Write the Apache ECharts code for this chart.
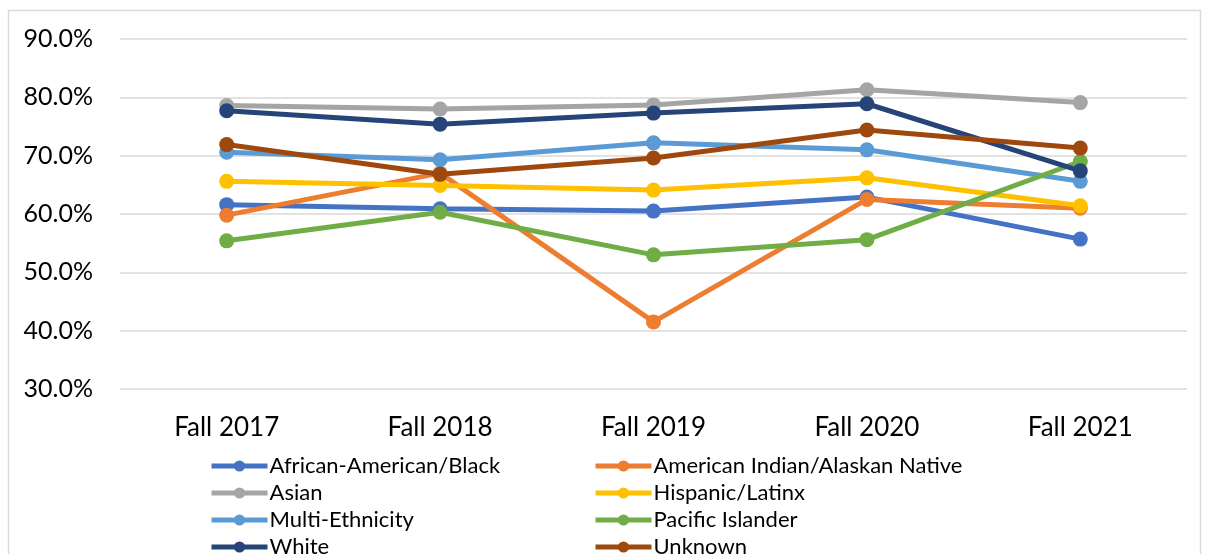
<!DOCTYPE html>
<html>
<head>
<meta charset="utf-8">
<script src="https://cdn.jsdelivr.net/npm/echarts@6/dist/echarts.min.js"></script>
<style>
  html, body { margin: 0; padding: 0; background: #fff; }
  #chart { width: 1209px; height: 554px; }
</style>
</head>
<body>
<div id="chart"></div>
<script>
// categories (terms)
var terms = ['Fall 2017', 'Fall 2018', 'Fall 2019', 'Fall 2020', 'Fall 2021'];

// retention rate (%) by group
var africanAmerican = [61.6, 60.9, 60.5, 62.9, 55.7];
var americanIndian = [59.8, 67.0, 41.5, 62.5, 61.0];
var asian = [78.6, 78.0, 78.7, 81.3, 79.1];
var hispanic = [65.6, 64.9, 64.1, 66.2, 61.4];
var multiEthnicity = [70.6, 69.3, 72.2, 71.0, 65.6];
var pacificIslander = [55.4, 60.3, 53.0, 55.6, 69.0];
var white = [77.7, 75.4, 77.3, 78.9, 67.4];
var unknown = [71.9, 66.8, 69.6, 74.4, 71.3];

var groupNames = [
  'African-American/Black', 'American Indian/Alaskan Native',
  'Asian', 'Hispanic/Latinx',
  'Multi-Ethnicity', 'Pacific Islander',
  'White', 'Unknown'
];
var groupData = [africanAmerican, americanIndian, asian, hispanic, multiEthnicity, pacificIslander, white, unknown];
var colors = ['#4472C4', '#ED7D31', '#A5A5A5', '#FFC000', '#5B9BD5', '#70AD47', '#264478', '#9E480E'];

var FONT = 'Lato, sans-serif';

var chart = echarts.init(document.getElementById('chart'));

var series = groupNames.map(function (name, i) {
  return {
    name: name,
    type: 'line',
    data: groupData[i],
    symbol: 'circle',
    symbolSize: 15,
    lineStyle: { width: 5, color: colors[i] },
    itemStyle: { color: colors[i] },
    z: 2 + i
  };
});

// one legend per item: two columns, four rows
var legends = groupNames.map(function (name, i) {
  return {
    data: [name],
    left: i % 2 === 0 ? 209 : 593,
    top: 455 + Math.floor(i / 2) * 27,
    itemWidth: 56,
    itemHeight: 14,
    padding: 0,
    lineStyle: { width: 5 },
    textStyle: { fontFamily: FONT, fontSize: 22, color: '#000', padding: [0, 0, 0, -3] }
  };
});

var option = {
  animation: false,
  color: colors,
  grid: { left: 120, right: 22, top: 39, height: 350 },
  graphic: [{
    type: 'rect',
    shape: { x: 8.5, y: 10.5, width: 1192, height: 560 },
    style: { fill: 'none', stroke: '#d9d9d9', lineWidth: 1.5 },
    silent: true
  }],
  legend: legends,
  xAxis: {
    type: 'category',
    data: terms,
    axisLine: { show: false },
    axisTick: { show: false },
    axisLabel: { fontFamily: FONT, fontSize: 26, color: '#000', margin: 26 }
  },
  yAxis: {
    type: 'value',
    min: 30,
    max: 90,
    interval: 10,
    axisLine: { show: false },
    axisTick: { show: false },
    splitLine: { lineStyle: { color: '#d9d9d9', width: 1.5 } },
    axisLabel: {
      fontFamily: FONT, fontSize: 25, color: '#000', margin: 27,
      formatter: function (v) { return v.toFixed(1) + '%'; }
    }
  },
  series: series
};

chart.setOption(option);
</script>
</body>
</html>
